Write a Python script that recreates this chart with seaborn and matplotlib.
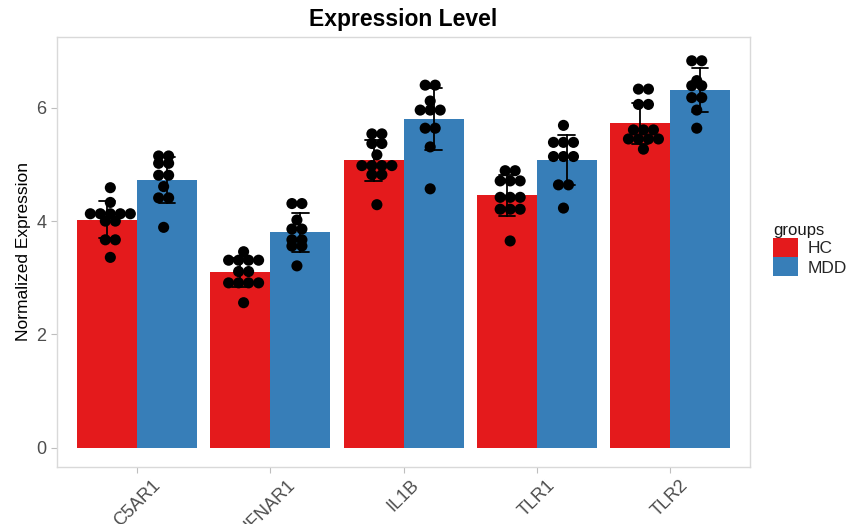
import matplotlib
matplotlib.use('Agg')
import matplotlib.pyplot as plt
import numpy as np
import pandas as pd
import seaborn as sns
from matplotlib.patches import Patch

# values
genes = ['C5AR1', 'IFNAR1', 'IL1B', 'TLR1', 'TLR2']
groups = ['HC', 'MDD']
colours = ['#E41A1C', '#377EB8']

c5ar1_hc = [4.59, 4.33, 4.13, 4.13, 4.13, 4.13, 4.13, 4.00, 4.00, 3.67, 3.67, 3.36]
c5ar1_mdd = [5.15, 5.15, 5.02, 5.02, 4.81, 4.81, 4.61, 4.41, 4.41, 3.89]
ifnar1_hc = [3.46, 3.31, 3.31, 3.31, 3.31, 3.11, 3.11, 2.91, 2.91, 2.91, 2.91, 2.56]
ifnar1_mdd = [4.31, 4.31, 4.02, 3.86, 3.86, 3.67, 3.67, 3.56, 3.56, 3.21]
il1b_hc = [5.54, 5.54, 5.37, 5.37, 5.17, 4.98, 4.98, 4.98, 4.98, 4.82, 4.82, 4.29]
il1b_mdd = [6.40, 6.40, 6.12, 5.96, 5.96, 5.96, 5.64, 5.64, 5.31, 4.57]
tlr1_hc = [4.89, 4.89, 4.71, 4.71, 4.71, 4.42, 4.42, 4.42, 4.21, 4.21, 4.21, 3.65]
tlr1_mdd = [5.69, 5.39, 5.39, 5.39, 5.14, 5.14, 5.14, 4.64, 4.64, 4.23]
tlr2_hc = [6.33, 6.33, 6.06, 6.06, 5.61, 5.61, 5.61, 5.45, 5.45, 5.45, 5.45, 5.27]
tlr2_mdd = [6.83, 6.83, 6.48, 6.39, 6.39, 6.18, 6.18, 5.96, 5.64]

hc_lists = [c5ar1_hc, ifnar1_hc, il1b_hc, tlr1_hc, tlr2_hc]
mdd_lists = [c5ar1_mdd, ifnar1_mdd, il1b_mdd, tlr1_mdd, tlr2_mdd]

rows = []
for g, hc, mdd in zip(genes, hc_lists, mdd_lists):
    rows += [(g, 'HC', v) for v in hc]
    rows += [(g, 'MDD', v) for v in mdd]
df = pd.DataFrame(rows, columns=['gene', 'groups', 'value'])

sns.set_style('white')
plt.rcParams['font.family'] = ['Liberation Sans', 'DejaVu Sans']

fig = plt.figure(figsize=(8.46, 5.24), dpi=100)
ax = fig.add_axes([0.0674, 0.1088, 0.8192, 0.8206])

sns.barplot(data=df, x='gene', y='value', hue='groups', order=genes, hue_order=groups,
            palette=colours, width=0.9, saturation=1, errorbar='sd', capsize=0.25,
            err_kws={'color': 'black', 'linewidth': 1.3}, linewidth=0, ax=ax, legend=False)

sns.stripplot(data=df, x='gene', y='value', hue='groups', order=genes, hue_order=groups,
              palette=['black', 'black'], dodge=True, jitter=False, size=8,
              linewidth=0, ax=ax, legend=False, zorder=4)

# spread tied values side by side, like a centred dotplot
step = 0.075
for coll in ax.collections:
    offs = coll.get_offsets()
    if len(offs) == 0:
        continue
    offs = np.array(offs)
    new = offs.copy()
    for yv in np.unique(offs[:, 1]):
        idx = np.where(offs[:, 1] == yv)[0]
        n = len(idx)
        for k, i in enumerate(idx):
            new[i, 0] = offs[i, 0] + (k - (n - 1) / 2) * step
    coll.set_offsets(new)

ax.set_xlim(-0.6, 4.6)
ax.set_ylim(-0.34, 7.25)
ax.set_yticks([0, 2, 4, 6])
ax.set_xlabel('')
ax.set_ylabel('Normalized Expression', fontsize=12.5, color='black')
ax.set_title('Expression Level', fontsize=16.5, fontweight='bold', pad=8, color='black')

for s in ax.spines.values():
    s.set_visible(True)
    s.set_color('#D9D9D9')
    s.set_linewidth(1.0)
ax.tick_params(axis='both', which='both', length=4, width=0.8, color='#BEBEBE',
               labelcolor='#4D4D4D', labelsize=13, left=True, bottom=True)
plt.setp(ax.get_xticklabels(), rotation=45, ha='center', va='top')
ax.tick_params(axis='x', pad=3)

handles = [Patch(facecolor=c, edgecolor='none', label=l) for c, l in zip(colours, groups)]
leg = fig.legend(handles=handles, title='groups', loc='upper left',
                 bbox_to_anchor=(0.914, 0.575), frameon=False, fontsize=12.5,
                 title_fontsize=12, handlelength=1.4, handleheight=1.3,
                 labelspacing=0.02, handletextpad=0.6, borderpad=0, borderaxespad=0)
leg._legend_box.align = 'left'
leg.get_title().set_color('#1A1A1A')

fig.savefig('out.png', dpi=100)
